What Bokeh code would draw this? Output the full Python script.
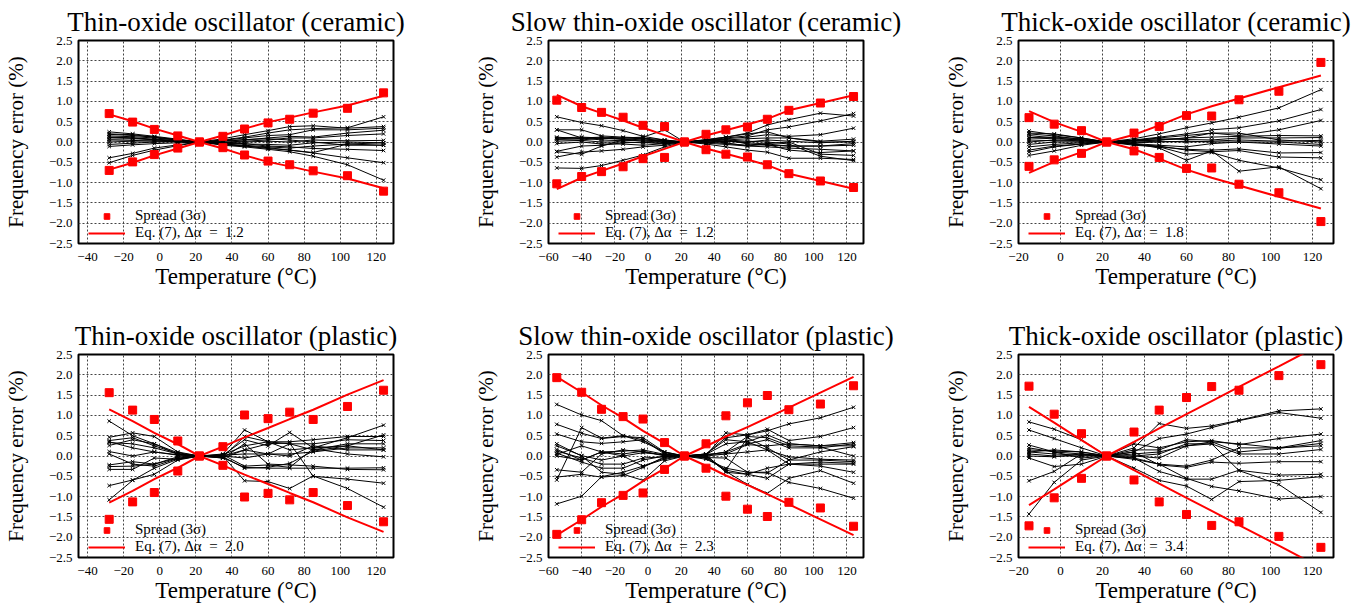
from bokeh.plotting import figure
from bokeh.layouts import column, row
from bokeh.models import FixedTicker, Range1d, Legend, LegendItem, CustomJSTickFormatter
from bokeh.embed import file_html
from bokeh.resources import INLINE

# ---------------- data ----------------
T_A = [-28, -15, -3, 10, 22, 35, 47, 60, 72, 85, 104, 124]
T_B = [-55, -40, -28, -15, -3, 10, 22, 35, 47, 60, 72, 85, 104, 124]
T_C = [-15, -3, 10, 22, 35, 47, 60, 72, 85, 104, 124]

x_ticks_A = [-40, -20, 0, 20, 40, 60, 80, 100, 120]
x_ticks_B = [-60, -40, -20, 0, 20, 40, 60, 80, 100, 120]
x_ticks_C = [-20, 0, 20, 40, 60, 80, 100, 120]
y_ticks = [-2.5, -2.0, -1.5, -1.0, -0.5, 0.0, 0.5, 1.0, 1.5, 2.0, 2.5]

titles = ["Thin-oxide oscillator (ceramic)", "Slow thin-oxide oscillator (ceramic)",
          "Thick-oxide oscillator (ceramic)", "Thin-oxide oscillator (plastic)",
          "Slow thin-oxide oscillator (plastic)", "Thick-oxide oscillator (plastic)"]
delta_alpha = ["1.2", "1.2", "1.8", "2.0", "2.3", "3.4"]

# spread (3 sigma), upper values (lower is the mirror)
spread_1 = [0.70, 0.49, 0.31, 0.15, 0.0, 0.14, 0.32, 0.47, 0.56, 0.71, 0.83, 1.21]
spread_2 = [1.03, 0.85, 0.73, 0.61, 0.41, 0.38, 0.0, 0.19, 0.30, 0.37, 0.56, 0.78, 0.96, 1.12]
spread_3 = [0.60, 0.44, 0.28, 0.0, 0.22, 0.38, 0.65, 0.64, 1.04, 1.25, 1.96]
spread_4 = [1.56, 1.13, 0.90, 0.37, 0.0, 0.23, 1.01, 0.92, 1.08, 0.90, 1.22, 1.62]
spread_5 = [1.93, 1.57, 1.15, 0.97, 0.91, 0.33, 0.0, 0.30, 0.99, 1.31, 1.49, 1.14, 1.28, 1.73]
spread_6 = [1.72, 1.03, 0.55, 0.0, 0.59, 1.13, 1.44, 1.71, 1.62, 1.98, 2.25]

# Eq. (7), upper values (lower is the mirror)
eq_1 = [0.68, 0.51, 0.33, 0.16, 0.0, 0.16, 0.33, 0.49, 0.60, 0.73, 0.90, 1.14]
eq_2 = [1.16, 0.88, 0.71, 0.53, 0.35, 0.17, 0.0, 0.16, 0.29, 0.43, 0.57, 0.78, 0.96, 1.15]
eq_3 = [0.76, 0.49, 0.25, 0.0, 0.18, 0.41, 0.68, 0.88, 1.07, 1.35, 1.64]
eq_4 = [1.15, 0.86, 0.57, 0.29, 0.0, 0.23, 0.46, 0.69, 0.91, 1.14, 1.51, 1.87]
eq_5 = [1.95, 1.57, 1.25, 0.94, 0.62, 0.31, 0.0, 0.24, 0.48, 0.71, 0.94, 1.19, 1.56, 1.95]
eq_6 = [1.21, 0.82, 0.39, 0.0, 0.35, 0.68, 1.03, 1.35, 1.70, 2.21, 2.75]

# individual devices (frequency error, %)
devices_1 = [
    [0.19, 0.16, 0.12, 0.06, 0, 0.05, 0.12, 0.22, 0.30, 0.33, 0.35, 0.62],
    [0.15, 0.13, 0.10, 0.05, 0, 0.08, 0.18, 0.28, 0.38, 0.40, 0.34, 0.38],
    [0.11, 0.10, 0.07, 0.04, 0, 0.04, 0.10, 0.16, 0.18, 0.30, 0.30, 0.34],
    [0.07, 0.08, 0.06, 0.03, 0, 0.02, 0.05, 0.10, 0.14, 0.12, 0.22, 0.29],
    [0.25, 0.20, 0.14, 0.07, 0, 0.00, 0.02, 0.05, 0.10, 0.10, 0.16, 0.20],
    [0.00, 0.02, 0.03, 0.02, 0, -0.02, 0.00, 0.02, 0.00, 0.05, 0.03, 0.04],
    [-0.06, -0.03, 0.00, 0.01, 0, -0.03, -0.05, -0.06, -0.08, -0.02, 0.00, -0.02],
    [-0.11, -0.07, -0.04, -0.02, 0, -0.05, -0.08, -0.12, -0.15, -0.10, -0.05, -0.08],
    [0.05, 0.04, 0.02, 0.01, 0, -0.06, -0.10, -0.14, -0.20, -0.26, -0.05, -0.02],
    [-0.39, -0.28, -0.15, -0.07, 0, -0.02, -0.04, -0.10, -0.12, -0.16, -0.18, -0.21],
    [-0.51, -0.33, -0.20, -0.09, 0, -0.06, -0.10, -0.16, -0.20, -0.27, -0.39, -0.51],
    [0.12, 0.10, 0.05, 0.02, 0, -0.08, -0.12, -0.18, -0.24, -0.35, -0.56, -0.94],
    [0.20, 0.18, 0.12, 0.05, 0, 0.03, 0.06, 0.08, 0.05, 0.00, -0.08, -0.08],
]
devices_2 = [
    [0.62, 0.48, 0.40, 0.28, 0.14, 0.05, 0, 0.05, 0.12, 0.22, 0.42, 0.55, 0.71, 0.64],
    [0.30, 0.30, 0.15, 0.12, 0.10, 0.05, 0, 0.04, 0.10, 0.15, 0.30, 0.37, 0.52, 0.70],
    [0.30, 0.10, 0.12, 0.10, 0.12, 0.30, 0, 0.02, 0.08, 0.12, 0.18, 0.14, 0.18, 0.34],
    [0.12, 0.08, 0.08, 0.10, 0.08, 0.03, 0, 0.03, 0.05, 0.08, 0.10, 0.10, 0.02, 0.07],
    [0.08, 0.10, 0.05, 0.03, 0.05, 0.02, 0, -0.02, 0.02, 0.00, 0.05, 0.02, -0.02, 0.02],
    [0.06, 0.05, 0.10, 0.06, 0.02, 0.00, 0, 0.05, 0.06, -0.05, -0.08, -0.10, -0.10, -0.04],
    [0.02, 0.04, 0.00, 0.00, -0.02, -0.02, 0, -0.03, -0.06, -0.10, -0.12, -0.15, -0.18, -0.22],
    [-0.04, 0.00, -0.05, -0.05, -0.08, -0.04, 0, 0.00, -0.04, -0.08, -0.06, -0.20, -0.26, -0.22],
    [-0.23, -0.10, -0.08, -0.02, 0.00, -0.05, 0, -0.05, -0.12, -0.20, -0.25, -0.40, -0.40, -0.43],
    [-0.37, -0.25, -0.22, -0.18, -0.12, -0.08, 0, 0.02, 0.05, 0.02, 0.00, -0.05, -0.35, -0.46],
    [-0.24, -0.30, -0.10, 0.05, 0.10, -0.02, 0, 0.03, -0.02, -0.10, -0.04, 0.00, -0.30, -0.33],
    [-0.64, -0.65, -0.58, -0.45, -0.32, -0.12, 0, 0.00, 0.02, -0.02, -0.05, -0.10, -0.10, -0.08],
    [0.10, 0.12, 0.10, 0.08, 0.05, 0.02, 0, 0.06, 0.12, 0.20, 0.25, 0.10, 0.00, 0.00],
]
devices_3 = [
    [0.10, 0.08, 0.05, 0, 0.08, 0.20, 0.35, 0.47, 0.61, 0.84, 1.29],
    [0.27, 0.18, 0.10, 0, 0.05, 0.12, 0.20, 0.30, 0.35, 0.52, 0.80],
    [0.20, 0.15, 0.06, 0, 0.04, 0.10, 0.16, 0.22, 0.16, 0.30, 0.53],
    [0.16, 0.10, 0.05, 0, 0.02, 0.05, 0.10, 0.12, 0.14, 0.16, 0.15],
    [0.11, 0.12, 0.08, 0, 0.04, 0.08, 0.06, 0.05, 0.10, 0.10, 0.11],
    [0.00, 0.05, 0.03, 0, 0.00, 0.02, 0.00, 0.02, 0.05, 0.02, 0.04],
    [-0.06, 0.00, 0.00, 0, -0.02, 0.00, 0.02, 0.00, 0.00, 0.00, -0.06],
    [-0.12, -0.06, -0.02, 0, -0.04, -0.08, -0.12, -0.04, 0.00, -0.05, -0.10],
    [-0.20, -0.10, -0.05, 0, -0.05, -0.12, -0.18, -0.20, -0.17, -0.27, -0.26],
    [-0.33, -0.22, -0.08, 0, -0.06, -0.10, -0.20, -0.24, -0.21, -0.37, -0.39],
    [0.05, 0.03, 0.02, 0, -0.04, -0.15, -0.45, -0.22, -0.72, -0.61, -1.15],
    [-0.25, -0.12, -0.05, 0, -0.08, -0.12, -0.30, -0.26, -0.45, -0.64, -0.93],
    [0.22, 0.20, 0.10, 0, 0.03, 0.05, 0.10, 0.22, 0.22, 0.05, 0.00],
]
devices_4 = [
    [0.86, 0.50, 0.30, 0.08, 0, 0.05, 0.64, 0.35, 0.15, 0.20, 0.45, 0.76],
    [0.46, 0.57, 0.48, 0.10, 0, 0.02, 0.40, 0.25, 0.58, 0.20, 0.25, 0.52],
    [0.38, 0.45, 0.25, 0.06, 0, 0.03, 0.25, 0.35, 0.35, 0.40, 0.48, 0.48],
    [0.33, 0.30, 0.20, 0.05, 0, 0.00, 0.15, 0.05, 0.30, 0.30, 0.40, 0.38],
    [0.26, 0.40, 0.30, 0.04, 0, -0.02, 0.48, 0.35, 0.30, 0.15, 0.30, 0.30],
    [0.11, 0.00, 0.10, 0.03, 0, 0.02, 0.05, 0.05, 0.05, 0.10, 0.20, 0.20],
    [0.35, 0.20, 0.10, 0.02, 0, 0.00, -0.05, 0.05, 0.00, 0.25, 0.15, 0.15],
    [-0.22, -0.14, -0.20, -0.05, 0, 0.03, -0.25, -0.22, -0.28, 0.18, 0.05, -0.02],
    [-0.26, -0.25, -0.20, -0.02, 0, -0.02, -0.30, -0.28, -0.18, 0.12, 0.25, 0.15],
    [-0.33, -0.33, -0.05, -0.08, 0, -0.04, -0.28, -0.30, -0.30, -0.30, -0.30, -0.29],
    [-0.73, -0.59, -0.45, -0.10, 0, -0.05, 0.15, 0.30, 0.32, -0.50, -0.57, -0.67],
    [-1.08, -0.60, -0.30, -0.08, 0, 0.00, -0.61, -0.63, -0.80, -0.49, -0.80, -1.26],
    [0.05, -0.20, -0.25, -0.06, 0, -0.05, 0.30, -0.20, -0.22, -0.25, -0.33, -0.34],
]
devices_5 = [
    [1.27, 1.01, 0.87, 0.50, 0.35, 0.10, 0, 0.05, 0.45, 0.52, 0.62, 0.79, 0.94, 1.20],
    [0.78, 0.56, 0.43, 0.48, 0.45, 0.10, 0, 0.02, 0.57, 0.52, 0.66, 0.38, 0.48, 0.70],
    [0.54, 0.35, 0.31, 0.35, 0.40, 0.05, 0, 0.05, 0.40, 0.35, 0.52, 0.30, 0.25, 0.33],
    [0.25, 0.01, -0.10, 0.00, 0.08, 0.03, 0, 0.02, 0.10, 0.30, 0.40, 0.20, 0.20, 0.30],
    [0.16, -0.10, 0.10, 0.12, 0.15, 0.04, 0, 0.00, -0.35, 0.45, 0.20, -0.10, 0.10, 0.23],
    [0.12, -0.05, -0.20, -0.20, -0.05, -0.02, 0, 0.04, 0.30, 0.35, 0.15, -0.02, -0.08, -0.10],
    [0.07, -0.15, -0.30, -0.30, -0.10, 0.00, 0, -0.04, -0.05, -0.40, -0.42, -0.10, -0.10, -0.14],
    [-0.34, -0.40, 0.05, 0.15, 0.10, 0.02, 0, 0.03, -0.40, -0.45, -0.30, -0.20, -0.15, -0.18],
    [-0.59, 0.70, 0.44, 0.50, 0.40, 0.08, 0, 0.05, 0.05, 0.28, 0.25, 0.30, 0.25, 0.25],
    [-0.52, -0.45, -0.52, -0.48, -0.28, -0.02, 0, -0.05, -0.35, -0.45, -0.55, -0.20, -0.25, -0.40],
    [-1.18, -0.99, -0.51, -0.40, -0.25, -0.08, 0, -0.02, -0.38, -0.70, -0.92, -0.55, -0.36, -0.67],
    [0.04, 0.25, 0.10, 0.00, -0.25, -0.05, 0, -0.08, -0.30, -0.40, -0.40, -0.65, -0.80, -1.04],
    [0.30, 0.00, -0.40, -0.45, -0.60, -0.12, 0, 0.00, 0.05, 0.10, 0.15, -0.20, -0.20, -0.20],
    [0.00, -0.10, 0.10, 0.05, 0.12, 0.00, 0, 0.02, 0.10, 0.48, 0.45, 0.25, 0.22, 0.00],
]
devices_6 = [
    [0.84, 0.66, 0.40, 0, 0.20, 0.80, 0.68, 0.74, 0.88, 1.11, 1.16],
    [0.64, 0.43, 0.20, 0, 0.10, 0.43, 0.54, 0.70, 0.87, 1.07, 0.93],
    [0.27, 0.10, 0.05, 0, 0.30, 0.20, 0.35, 0.38, 0.28, 0.43, 0.54],
    [0.15, 0.12, 0.10, 0, 0.15, 0.15, 0.40, 0.35, 0.30, 0.20, 0.38],
    [0.10, 0.05, 0.02, 0, 0.05, 0.10, 0.25, 0.35, 0.10, 0.19, 0.31],
    [0.05, 0.00, 0.00, 0, 0.00, 0.05, 0.30, 0.30, 0.05, 0.05, 0.16],
    [0.00, -0.02, 0.05, 0, -0.05, -0.20, -0.25, -0.10, 0.20, 0.20, 0.25],
    [-0.05, -0.26, -0.20, 0, 0.10, -0.22, -0.28, -0.15, -0.18, -0.14, -0.14],
    [-0.61, -0.38, 0.05, 0, -0.05, -0.38, -0.57, -0.57, -0.35, -0.47, -0.45],
    [-1.43, -0.65, -0.10, 0, -0.08, -0.20, -0.55, -0.75, -0.86, -1.06, -1.00],
    [0.10, 0.15, 0.10, 0, -0.30, -0.60, -0.74, -1.07, -0.63, -0.60, -0.51],
    [0.20, 0.10, -0.05, 0, 0.00, -0.05, 0.25, 0.30, -0.36, -0.70, -1.39],
]

x_range_A = (-45, 129.5)
x_range_B = (-60, 130)
x_range_C = (-20, 130)

FONT = "Liberation Serif"
RED = "#ff0000"


def make_panel(idx, temps, devices, spread, eq, xr, xticks, width, height,
               b_left, b_right, b_top, b_bottom):
    p = figure(width=width, height=height, x_range=Range1d(*xr), y_range=Range1d(-2.5, 2.5),
               output_backend="svg", toolbar_location=None,
               min_border_left=b_left, min_border_right=b_right,
               min_border_top=b_top, min_border_bottom=b_bottom,
               background_fill_color="white", border_fill_color="white")
    p.title.text = titles[idx]
    p.title.text_font = FONT
    p.title.text_font_size = "27px"
    p.title.text_font_style = "normal"
    p.title.text_color = "black"
    p.title.align = "center"
    p.title.standoff = 7
    p.outline_line_color = "black"
    p.outline_line_width = 2

    p.xaxis.ticker = FixedTicker(ticks=xticks)
    p.yaxis.ticker = FixedTicker(ticks=y_ticks)
    p.xaxis.formatter = CustomJSTickFormatter(code="return tick.toFixed(0).replace('-', '\u2212');")
    p.yaxis.formatter = CustomJSTickFormatter(code="return tick.toFixed(1).replace('-', '\u2212');")
    for ax in (p.xaxis, p.yaxis):
        ax.axis_line_color = None
        ax.major_tick_in = 0
        ax.major_tick_out = 0
        ax.minor_tick_line_color = None
        ax.major_label_text_font = FONT
        ax.major_label_text_font_size = "13px"
        ax.major_label_text_color = "black"
        ax.axis_label_text_font = FONT
        ax.axis_label_text_font_style = "normal"
        ax.axis_label_text_color = "black"
    p.xaxis.axis_label = "Temperature (°C)"
    p.yaxis.axis_label = "Frequency error (%)"
    p.xaxis.axis_label_text_font_size = "23px"
    p.yaxis.axis_label_text_font_size = "21px"
    p.xaxis.major_label_standoff = 9
    p.xaxis.axis_label_standoff = 0
    p.yaxis.major_label_standoff = 6
    p.yaxis.axis_label_standoff = 18

    p.grid.grid_line_color = "#444444"
    p.grid.grid_line_dash = "2 2"
    p.grid.grid_line_width = 1

    # individual devices
    p.multi_line(xs=[temps] * len(devices), ys=devices, line_color="black", line_width=1)
    flat_x = [t for _ in devices for t in temps]
    flat_y = [v for d in devices for v in d]
    p.scatter(flat_x, flat_y, marker="x", size=5, line_color="black", line_width=1)

    # model (Eq. 7)
    eq_lo = [-v for v in eq]
    r_eq = p.line(temps, eq, line_color=RED, line_width=2)
    p.line(temps, eq_lo, line_color=RED, line_width=2)

    # spread
    sp_lo = [-v for v in spread]
    r_sp = p.scatter(temps, spread, marker="square", size=8, fill_color=RED, line_color=RED)
    p.scatter(temps, sp_lo, marker="square", size=8, fill_color=RED, line_color=RED)

    legend = Legend(items=[LegendItem(label="Spread (3σ)", renderers=[r_sp]),
                           LegendItem(label="Eq. (7), Δα\u2002=\u2002" + delta_alpha[idx], renderers=[r_eq])],
                    location=(8, 0))
    legend.label_text_font = FONT
    legend.label_text_font_size = "15px"
    legend.label_text_color = "black"
    legend.glyph_width = 37
    legend.glyph_height = 14
    legend.label_height = 14
    legend.label_standoff = 10
    legend.spacing = 0
    legend.padding = 2
    legend.margin = 0
    legend.background_fill_alpha = 0
    legend.border_line_alpha = 0
    p.add_layout(legend)
    return p


p1 = make_panel(0, T_A, devices_1, spread_1, eq_1, x_range_A, x_ticks_A, 470, 306, 73, 77, 40, 63)
p2 = make_panel(1, T_B, devices_2, spread_2, eq_2, x_range_B, x_ticks_B, 470, 306, 73, 77, 40, 63)
p3 = make_panel(2, T_C, devices_3, spread_3, eq_3, x_range_C, x_ticks_C, 424, 306, 73, 31, 40, 63)
p4 = make_panel(3, T_A, devices_4, spread_4, eq_4, x_range_A, x_ticks_A, 470, 300, 73, 77, 48, 49)
p5 = make_panel(4, T_B, devices_5, spread_5, eq_5, x_range_B, x_ticks_B, 470, 300, 73, 77, 48, 49)
p6 = make_panel(5, T_C, devices_6, spread_6, eq_6, x_range_C, x_ticks_C, 424, 300, 73, 31, 48, 49)

layout = column(row(p1, p2, p3), row(p4, p5, p6))
open("out.html", "w").write(file_html(layout, INLINE))
